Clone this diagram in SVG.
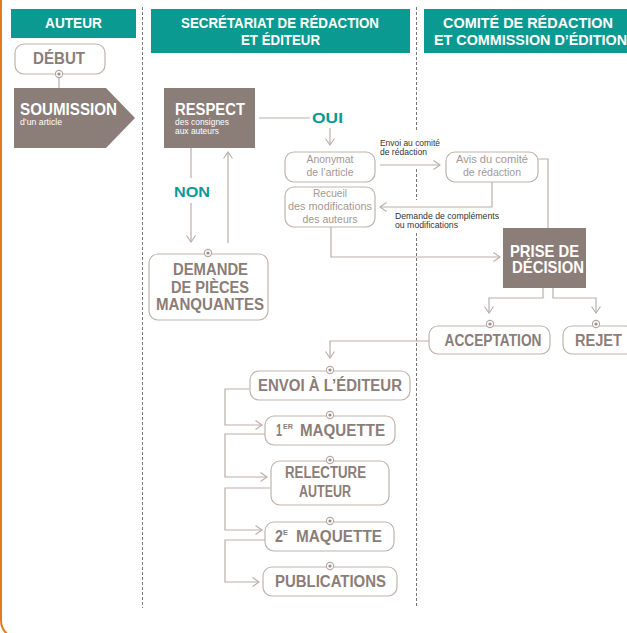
<svg xmlns="http://www.w3.org/2000/svg" width="627" height="633" viewBox="0 0 627 633">
<defs>
<style>
text{font-family:"Liberation Sans",Arial,sans-serif}
.hdr{fill:#0b9a91}
.ht{fill:#fff;font-weight:bold;font-size:14px;text-anchor:middle}
.dark{fill:#8b7d78}
.wt{fill:#fff;font-weight:bold}
.box{fill:#fff;stroke:#bfb3ae;stroke-width:1.2}
.bl{fill:#8b7d78;font-weight:bold;font-size:16px;text-anchor:middle}
.st{text-anchor:start}
.sup{font-size:8px}
.lt{fill:#a39894;font-size:11px;text-anchor:middle}
.sm{fill:#333;font-size:9px}
.teal{fill:#0b9a91;font-weight:bold;font-size:15px}
.ln{fill:none;stroke:#b9aeaa;stroke-width:1.2}
.dv{fill:none;stroke:#777;stroke-width:1;stroke-dasharray:3 2}
.pt{fill:#fff;stroke:#b3a7a2;stroke-width:1.1}
.pd{fill:#9a8d88}
</style>
<marker id="ar" viewBox="0 0 8 10" refX="7" refY="5" markerWidth="8" markerHeight="10" markerUnits="userSpaceOnUse" orient="auto">
<path d="M0.5,0.5 L7,5 L0.5,9.5" fill="none" stroke="#b9aeaa" stroke-width="1.1"/>
</marker>
<g id="dot"><circle r="3.6" class="pt"/><circle r="1.6" class="pd"/></g>
</defs>
<rect width="627" height="633" fill="#fff"/>
<path d="M1,0 V620 Q1,632 13,638" fill="none" stroke="#e07a1f" stroke-width="2"/>
<g id="dividers">
<line class="dv" x1="142.5" y1="7" x2="142.5" y2="608"/>
<line class="dv" x1="416.5" y1="7" x2="416.5" y2="130"/>
<line class="dv" x1="416.5" y1="169" x2="416.5" y2="200"/>
<line class="dv" x1="416.5" y1="233" x2="416.5" y2="608"/>
</g>
<g id="headers">
<rect class="hdr" x="11" y="9" width="125" height="29"/>
<text class="ht" x="73.5" y="28" textLength="57" lengthAdjust="spacingAndGlyphs">AUTEUR</text>
<rect class="hdr" x="151" y="9" width="259" height="44"/>
<text class="ht" x="280" y="28" textLength="198" lengthAdjust="spacingAndGlyphs">SECRÉTARIAT DE RÉDACTION</text>
<text class="ht" x="280.5" y="45" textLength="79" lengthAdjust="spacingAndGlyphs">ET ÉDITEUR</text>
<rect class="hdr" x="424" y="9" width="203" height="44"/>
<text class="ht" x="528" y="28" textLength="170" lengthAdjust="spacingAndGlyphs">COMITÉ DE RÉDACTION</text>
<text class="ht" x="530.5" y="45" textLength="193" lengthAdjust="spacingAndGlyphs">ET COMMISSION D’ÉDITION</text>
</g>
<g id="connectors">
<line class="ln" x1="59" y1="77" x2="59" y2="88"/>
<line class="ln" x1="259" y1="118" x2="310" y2="118"/>
<line class="ln" x1="330" y1="128" x2="330" y2="145" marker-end="url(#ar)"/>
<line class="ln" x1="380" y1="165" x2="440" y2="165" marker-end="url(#ar)"/>
<polyline class="ln" points="538,159 548,159 548,228"/>
<polyline class="ln" points="492,182 492,207 380,207" marker-end="url(#ar)"/>
<polyline class="ln" points="331,227 331,257 500,257" marker-end="url(#ar)"/>
<polyline class="ln" points="543,288 543,298 489,298 489,313" marker-end="url(#ar)"/>
<polyline class="ln" points="553,288 553,298 596,298 596,313" marker-end="url(#ar)"/>
<polyline class="ln" points="429,341 330,341 330,358" marker-end="url(#ar)"/>
<polyline class="ln" points="249,389 225,389 225,425 262,425" marker-end="url(#ar)"/>
<polyline class="ln" points="265,434 225,434 225,477 267,477" marker-end="url(#ar)"/>
<polyline class="ln" points="270,488 225,488 225,530 262,530" marker-end="url(#ar)"/>
<polyline class="ln" points="265,540 225,540 225,582 259,582" marker-end="url(#ar)"/>
<line class="ln" x1="191" y1="148" x2="191" y2="178"/>
<line class="ln" x1="191" y1="203" x2="191" y2="242" marker-end="url(#ar)"/>
<line class="ln" x1="228" y1="243" x2="228" y2="152" marker-end="url(#ar)"/>
</g>
<g id="labels">
<text class="teal" x="312" y="123" textLength="31" lengthAdjust="spacingAndGlyphs">OUI</text>
<text class="teal" x="174" y="197" textLength="36" lengthAdjust="spacingAndGlyphs">NON</text>
<text class="sm" x="380" y="146" textLength="60" lengthAdjust="spacingAndGlyphs">Envoi au comité</text>
<text class="sm" x="380" y="155" textLength="47" lengthAdjust="spacingAndGlyphs">de rédaction</text>
<text class="sm" x="395" y="219" textLength="104" lengthAdjust="spacingAndGlyphs">Demande de compléments</text>
<text class="sm" x="395" y="228" textLength="63" lengthAdjust="spacingAndGlyphs">ou modifications</text>
</g>
<g id="debut">
<rect class="box" x="15" y="44" width="90" height="30" rx="9"/>
<text class="bl" x="59" y="64" textLength="52" lengthAdjust="spacingAndGlyphs">DÉBUT</text>
<use href="#dot" x="59" y="74"/>
</g>
<g id="soumission">
<path class="dark" d="M14,88 H106 L135,118 L106,148 H14 Z"/>
<text class="wt" x="20" y="115" font-size="16" textLength="97" lengthAdjust="spacingAndGlyphs">SOUMISSION</text>
<text fill="#fff" x="20" y="124.5" font-size="8.5" textLength="42" lengthAdjust="spacingAndGlyphs">d’un article</text>
</g>
<g id="respect">
<rect class="dark" x="164" y="88" width="91" height="60"/>
<text class="wt" x="175" y="115" font-size="16" textLength="70" lengthAdjust="spacingAndGlyphs">RESPECT</text>
<text fill="#fff" x="175" y="125" font-size="9.5" textLength="54" lengthAdjust="spacingAndGlyphs">des consignes</text>
<text fill="#fff" x="175" y="134" font-size="9.5" textLength="44" lengthAdjust="spacingAndGlyphs">aux auteurs</text>
</g>
<g id="demande">
<rect class="box" x="149" y="254" width="119" height="66" rx="9"/>
<text class="bl" x="210.5" y="275" textLength="75" lengthAdjust="spacingAndGlyphs">DEMANDE</text>
<text class="bl" x="210" y="293" textLength="78" lengthAdjust="spacingAndGlyphs">DE PIÈCES</text>
<text class="bl" x="210" y="310" textLength="108" lengthAdjust="spacingAndGlyphs">MANQUANTES</text>
<use href="#dot" x="208" y="253"/>
</g>
<g id="anonymat">
<rect class="box" x="285" y="152" width="90" height="30" rx="9"/>
<text class="lt" x="330" y="163" textLength="47" lengthAdjust="spacingAndGlyphs">Anonymat</text>
<text class="lt" x="330" y="176" textLength="47" lengthAdjust="spacingAndGlyphs">de l’article</text>
</g>
<g id="recueil">
<rect class="box" x="285" y="187" width="90" height="40" rx="9"/>
<text class="lt" x="330" y="197" textLength="34" lengthAdjust="spacingAndGlyphs">Recueil</text>
<text class="lt" x="330" y="210" textLength="84" lengthAdjust="spacingAndGlyphs">des modifications</text>
<text class="lt" x="330" y="223" textLength="55" lengthAdjust="spacingAndGlyphs">des auteurs</text>
</g>
<g id="avis">
<rect class="box" x="446" y="152" width="92" height="30" rx="9"/>
<text class="lt" x="492" y="163" textLength="72" lengthAdjust="spacingAndGlyphs">Avis du comité</text>
<text class="lt" x="492" y="176" textLength="58" lengthAdjust="spacingAndGlyphs">de rédaction</text>
</g>
<g id="decision">
<rect class="dark" x="503" y="228" width="83" height="60"/>
<text class="wt" x="544.5" y="257" font-size="17" text-anchor="middle" textLength="69" lengthAdjust="spacingAndGlyphs">PRISE DE</text>
<text class="wt" x="548" y="273" font-size="17" text-anchor="middle" textLength="72" lengthAdjust="spacingAndGlyphs">DÉCISION</text>
</g>
<g id="acceptation">
<rect class="box" x="429" y="326" width="121" height="28" rx="9"/>
<text class="bl" x="493" y="346" textLength="97" lengthAdjust="spacingAndGlyphs">ACCEPTATION</text>
<use href="#dot" x="490" y="324"/>
</g>
<g id="rejet">
<rect class="box" x="563" y="326" width="72" height="28" rx="9"/>
<text class="bl" x="598.5" y="346" textLength="47" lengthAdjust="spacingAndGlyphs">REJET</text>
<use href="#dot" x="596" y="324"/>
</g>
<g id="envoi">
<rect class="box" x="250" y="371" width="160" height="29" rx="9"/>
<text class="bl" x="330" y="391" textLength="144" lengthAdjust="spacingAndGlyphs">ENVOI À L’ÉDITEUR</text>
<use href="#dot" x="330" y="370"/>
</g>
<g id="maquette1">
<rect class="box" x="265" y="416" width="130" height="29" rx="9"/>
<text class="bl st" x="276" y="436" textLength="6" lengthAdjust="spacingAndGlyphs">1</text>
<text class="bl st sup" x="283" y="429" textLength="10" lengthAdjust="spacingAndGlyphs">ER</text>
<text class="bl st" x="300" y="436" textLength="85" lengthAdjust="spacingAndGlyphs">MAQUETTE</text>
<use href="#dot" x="330" y="415"/>
</g>
<g id="relecture">
<rect class="box" x="271" y="461" width="118" height="44" rx="9"/>
<text class="bl" x="325.5" y="478" textLength="81" lengthAdjust="spacingAndGlyphs">RELECTURE</text>
<text class="bl" x="325" y="497" textLength="52" lengthAdjust="spacingAndGlyphs">AUTEUR</text>
<use href="#dot" x="330" y="460"/>
</g>
<g id="maquette2">
<rect class="box" x="265" y="522" width="129" height="29" rx="9"/>
<text class="bl st" x="275" y="542" textLength="8" lengthAdjust="spacingAndGlyphs">2</text>
<text class="bl st sup" x="283" y="535" textLength="5" lengthAdjust="spacingAndGlyphs">E</text>
<text class="bl st" x="296" y="542" textLength="86" lengthAdjust="spacingAndGlyphs">MAQUETTE</text>
<use href="#dot" x="330" y="521"/>
</g>
<g id="publications">
<rect class="box" x="263" y="567" width="134" height="29" rx="9"/>
<text class="bl" x="330.5" y="587" textLength="111" lengthAdjust="spacingAndGlyphs">PUBLICATIONS</text>
<use href="#dot" x="330" y="566"/>
</g>
</svg>
